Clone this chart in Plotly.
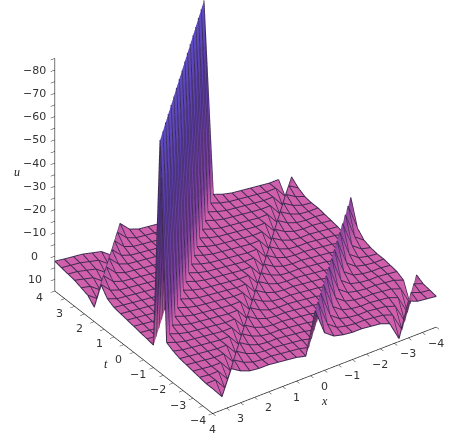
import plotly.graph_objects as go

# grid of the surface (25 x 25 samples, step 1/3)
x_vals = [-4 + i / 3 for i in range(25)]
t_vals = [-4 + j / 3 for j in range(25)]

u_by_diagonal = [
    2, 1.5, 1, -0.6, 14, 6, 4.5, 4, 3.5, 3.5, 3, 2, -1,
    -12, 6, 5, 4.5, 4, 3.5, 3.5, 3, 1.5, -1, 9.5, 4.5,
    4.5, 4, 3.5, 3, 2.5, 1.5, 0, -85, 5.5, 5, 4.5, 4,
    3.5, 3, 2.5, 1, -3, 9, 6, 5, 4, 3.5, 3, 2.4,
]
u_grid = [[u_by_diagonal[i + j] for i in range(25)] for j in range(25)]

x_ticks = [-4, -3, -2, -1, 0, 1, 2, 3, 4]
t_ticks = [-4, -3, -2, -1, 0, 1, 2, 3, 4]
u_ticks = [-80, -70, -60, -50, -40, -30, -20, -10, 0, 10]

PINK = "#D060AC"
LINE = "#3F2A50"
LINE_LIFT = 0.2  # draws the mesh lines just above the faces
colorscale = [[0, "#5C4CC4"], [0.35, "#5A3CA8"], [0.7, "#7F3F9F"], [0.85, PINK], [1, PINK]]


def minus(v):
    return str(v).replace("-", "\u2212")


def half_steps(vals):
    out = []
    for v in vals:
        out.append(v)
        if v != vals[-1]:
            out.append(v + 0.5)
    return out


xv = half_steps(x_ticks)
tv = half_steps(t_ticks)
uv = []
for v in u_ticks:
    uv += [v - 5, v]

nx, nt = len(x_vals), len(t_vals)
vx = [x_vals[i] for j in range(nt) for i in range(nx)]
vt = [t_vals[j] for j in range(nt) for i in range(nx)]
vu = [u_grid[j][i] for j in range(nt) for i in range(nx)]
fi, fj, fk = [], [], []
for j in range(nt - 1):
    for i in range(nx - 1):
        a, b, c, d = j * nx + i, j * nx + i + 1, (j + 1) * nx + i, (j + 1) * nx + i + 1
        fi += [a, b]
        fj += [b, d]
        fk += [c, c]

fig = go.Figure(go.Mesh3d(
    x=vx, y=vt, z=vu, i=fi, j=fj, k=fk, intensity=vu,
    colorscale=colorscale, cmin=-85, cmax=15, showscale=False,
    lighting=dict(ambient=0.85, diffuse=0.35, specular=0.0, roughness=1, fresnel=0),
    lightposition=dict(x=1000, y=1000, z=3000), hoverinfo="skip",
))

lx, lt, lu = [], [], []
for j in range(nt):
    lx += x_vals + [None]
    lt += [t_vals[j]] * nx + [None]
    lu += [u - LINE_LIFT for u in u_grid[j]] + [None]
for i in range(nx):
    lx += [x_vals[i]] * nt + [None]
    lt += t_vals + [None]
    lu += [u_grid[j][i] - LINE_LIFT for j in range(nt)] + [None]
fig.add_trace(go.Scatter3d(x=lx, y=lt, z=lu, mode="lines", line=dict(color=LINE, width=2),
                           hoverinfo="skip", showlegend=False))

tick_font = dict(family="DejaVu Sans", size=11, color="#333")
title_font = dict(family="Liberation Serif", size=12, color="#222")
labels = []
for v in x_ticks:
    labels.append(dict(x=v, y=-4, z=15, text=minus(v), xshift=0, yshift=-16, font=tick_font))
for v in t_ticks:
    labels.append(dict(x=4, y=v, z=15, text=minus(v), xshift=-15, yshift=-7, font=tick_font))
for v in u_ticks:
    labels.append(dict(x=4, y=4, z=v, text=minus(v), xshift=-20, yshift=0, font=tick_font))
labels.append(dict(x=0, y=-4, z=15, text="<i>x</i>", xshift=0, yshift=-31, font=title_font))
labels.append(dict(x=4, y=0, z=15, text="<i>t</i>", xshift=-28, yshift=-12, font=title_font))
labels.append(dict(x=4, y=4, z=-36, text="<i>u</i>", xshift=-38, yshift=0, font=title_font))
for a in labels:
    a["showarrow"] = False

axis = dict(showgrid=False, zeroline=False, showbackground=False, showline=True, linecolor="#222",
            linewidth=1.5, ticks="outside", ticklen=5, tickcolor="#222", tickwidth=1,
            showspikes=False, showticklabels=False, title=dict(text=""))
fig.update_layout(
    width=450, height=438, margin=dict(l=0, r=0, t=0, b=0),
    paper_bgcolor="white", showlegend=False,
    scene=dict(
        domain=dict(x=[0, 1], y=[0, 1]),
        aspectmode="manual", aspectratio=dict(x=1.25, y=1.25, z=1.27),
        camera=dict(eye=dict(x=0.597, y=0.683, z=0.448), up=dict(x=0, y=0, z=1),
                    center=dict(x=0.115, y=0.0, z=-0.10), projection=dict(type="orthographic")),
        xaxis=dict(axis, range=[-4, 4], tickmode="array", tickvals=xv),
        yaxis=dict(axis, range=[4, -4], tickmode="array", tickvals=tv),
        zaxis=dict(axis, range=[15, -85], tickmode="array", tickvals=uv),
        annotations=labels,
    ),
)
fig.write_html("out.html", config={"displayModeBar": False},
               post_script="document.body.style.margin='0';")
